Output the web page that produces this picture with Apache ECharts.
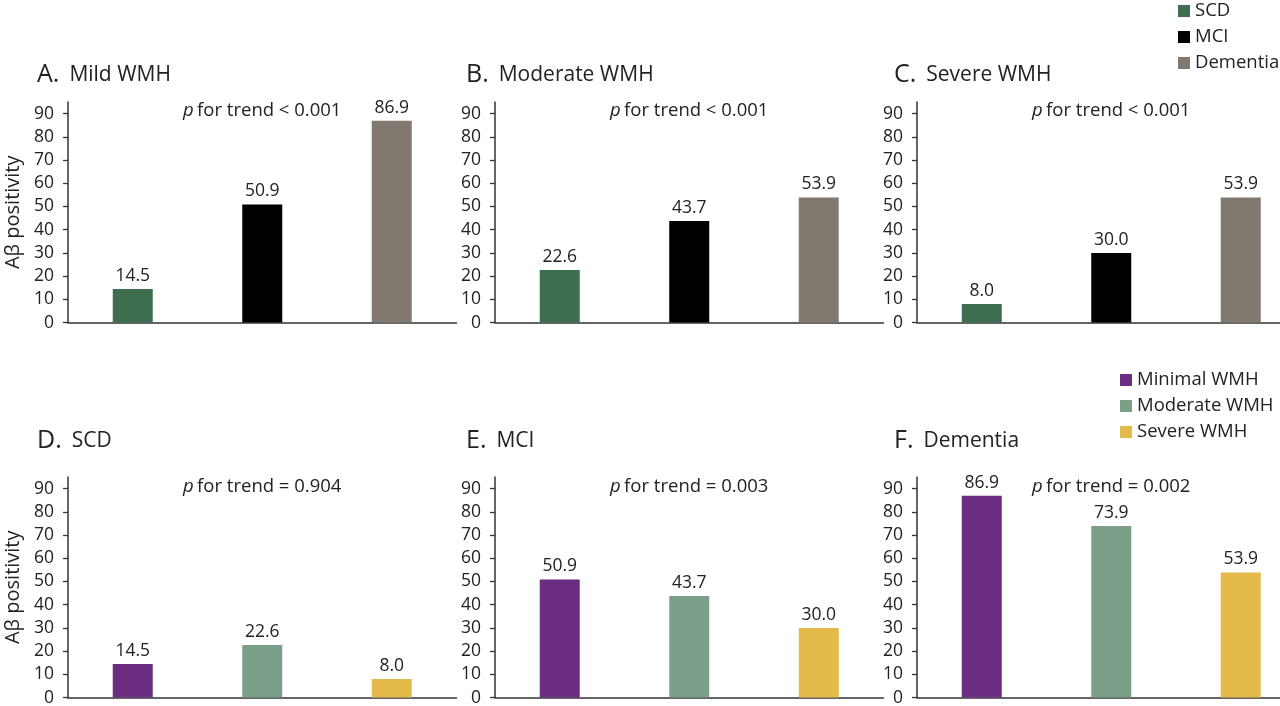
<!DOCTYPE html>
<html lang="en">
<head>
    <meta charset="UTF-8">
    <title>Aβ positivity by WMH severity</title>
    <script src="https://cdn.jsdelivr.net/npm/echarts@6/dist/echarts.min.js"></script>
    <style>
        html, body { margin: 0; padding: 0; background: #fff; }
        #chart { width: 1280px; height: 706px; }
    </style>
</head>
<body>
<div id="chart"></div>
<script type="text/javascript">
    // categories
    var groups = ['SCD', 'MCI', 'Dementia'];
    var wmhLevels = ['Minimal WMH', 'Moderate WMH', 'Severe WMH'];
    var yTicks = [0, 10, 20, 30, 40, 50, 60, 70, 80, 90];

    // top row: by WMH burden, bars = SCD / MCI / Dementia
    var mildWMH = [14.5, 50.9, 86.9];
    var moderateWMH = [22.6, 43.7, 53.9];
    var severeWMH = [8.0, 30.0, 53.9];
    // bottom row: by diagnosis, bars = minimal / moderate / severe WMH
    var scd = [14.5, 22.6, 8.0];
    var mci = [50.9, 43.7, 30.0];
    var dementia = [86.9, 73.9, 53.9];

    var panelTitles = [
        ['A.', 'Mild WMH'], ['B.', 'Moderate WMH'], ['C.', 'Severe WMH'],
        ['D.', 'SCD'], ['E.', 'MCI'], ['F.', 'Dementia']
    ];
    var trendTexts = ['< 0.001', '< 0.001', '< 0.001', '= 0.904', '= 0.003', '= 0.002'];

    var topColors = ['#3c6e4f', '#000000', '#817870'];
    var bottomColors = ['#6a2d80', '#7b9f88', '#e4bb4b'];

    var FONT = '"Open Sans", "Noto Sans", sans-serif';
    var TXT = '#222';

    var panelLeft = [68, 495, 917];
    var panelTop = [102, 477];
    var bandW = 129.5;

    var myChart = echarts.init(document.getElementById('chart'));

    var grids = [], xAxes = [], yAxes = [], series = [], graphics = [];
    var panelData = [mildWMH, moderateWMH, severeWMH, scd, mci, dementia];

    for (var p = 0; p < 6; p++) {
        var row = p < 3 ? 0 : 1;
        var col = p % 3;
        var cats = row === 0 ? groups : wmhLevels;
        var colors = row === 0 ? topColors : bottomColors;
        grids.push({
            left: panelLeft[col], top: panelTop[row],
            width: bandW * 3, height: 220.6,
            containLabel: false, outerBoundsMode: 'none'
        });
        xAxes.push({
            type: 'category', gridIndex: p, data: cats,
            axisLine: { lineStyle: { color: '#333', width: 1.5 } },
            axisTick: { alignWithLabel: true, length: 6, lineStyle: { color: '#333', width: 1.3 } },
            axisLabel: { show: false }
        });
        yAxes.push({
            type: 'value', gridIndex: p, min: 0, max: 95,
            name: col === 0 ? 'Aβ positivity' : '',
            nameLocation: 'middle', nameGap: 45,
            nameTextStyle: { fontFamily: FONT, fontSize: 20, color: TXT },
            axisLine: { show: true, lineStyle: { color: '#333', width: 1.5 } },
            axisTick: { show: true, length: 5, customValues: yTicks, lineStyle: { color: '#333', width: 1.3 } },
            axisLabel: { customValues: yTicks, margin: 14, fontFamily: FONT, fontSize: 17.5, color: TXT },
            splitLine: { show: false }
        });
        for (var g = 0; g < 3; g++) {
            series.push({
                name: cats[g], type: 'bar', xAxisIndex: p, yAxisIndex: p,
                barWidth: 40, barGap: '-100%',
                itemStyle: { color: colors[g] },
                label: {
                    show: true, position: 'top', distance: 4,
                    fontFamily: FONT, fontSize: 17.5, color: TXT,
                    formatter: function (d) { return d.value.toFixed(1); }
                },
                data: cats.map(function (c, i) { return i === g ? panelData[p][i] : '-'; })
            });
        }
        // panel letter and title
        graphics.push({
            type: 'text', x: col === 2 ? 894 : (col === 1 ? 466 : 37),
            y: row === 0 ? 75 : 441,
            style: {
                text: '{a|' + panelTitles[p][0] + '}{b|' + panelTitles[p][1] + '}',
                verticalAlign: 'middle',
                rich: {
                    a: { fontFamily: FONT, fontSize: 25, fill: TXT, padding: [0, 10, 0, 0] },
                    b: { fontFamily: FONT, fontSize: 21, fill: TXT }
                }
            }
        });
        // p for trend
        graphics.push({
            type: 'text', x: panelLeft[col] + bandW * 1.5, y: row === 0 ? 111 : 487,
            style: {
                text: '{i|p} {n|for trend ' + trendTexts[p] + '}',
                align: 'center', verticalAlign: 'middle',
                rich: {
                    i: { fontFamily: FONT, fontSize: 18.5, fontStyle: 'italic', fill: TXT },
                    n: { fontFamily: FONT, fontSize: 18.5, fill: TXT }
                }
            }
        });
    }

    var legendBase = {
        orient: 'vertical', icon: 'rect', itemWidth: 12, itemHeight: 12,
        itemGap: 6, selectedMode: false,
        textStyle: { fontFamily: FONT, fontSize: 18.5, color: TXT, lineHeight: 20 }
    };

    var option = {
        animation: false,
        backgroundColor: '#fff',
        grid: grids,
        xAxis: xAxes,
        yAxis: yAxes,
        legend: [
            Object.assign({}, legendBase, { data: groups, left: 1173, top: -4 }),
            Object.assign({}, legendBase, { data: wmhLevels, left: 1115, top: 365 })
        ],
        graphic: graphics,
        series: series
    };

    myChart.setOption(option);
</script>
</body>
</html>
